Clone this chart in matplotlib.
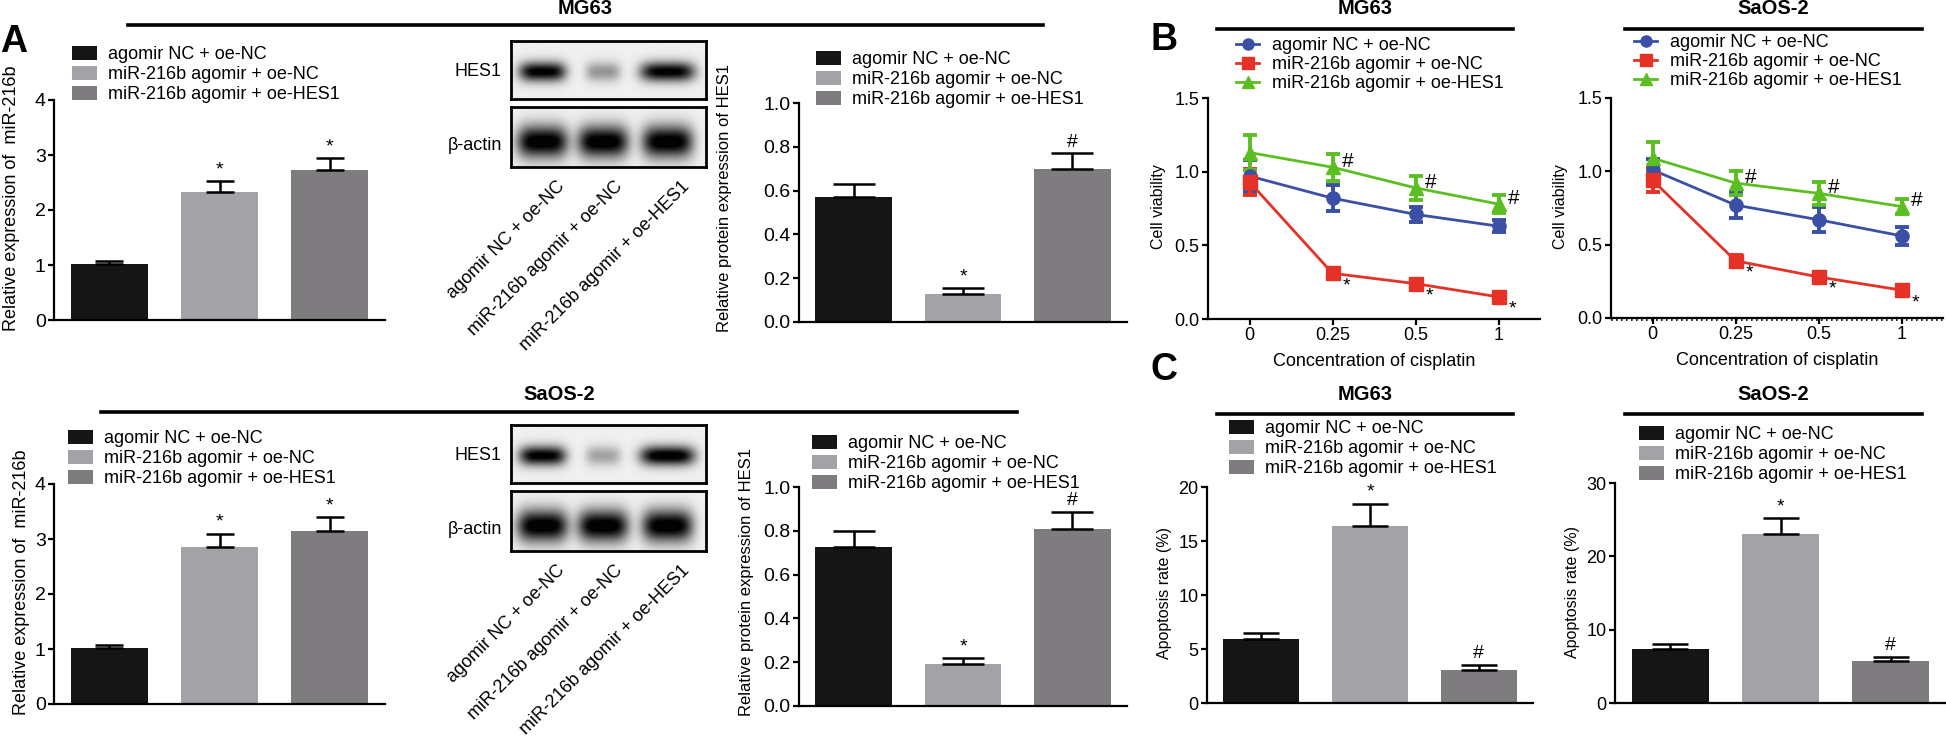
import numpy as np
import matplotlib
matplotlib.use("Agg")
import matplotlib.pyplot as plt
from matplotlib.patches import Patch
from matplotlib.lines import Line2D

plt.rcParams['font.family'] = ['Liberation Sans', 'DejaVu Sans']

W, H = 1946, 745

groups = ["agomir NC + oe-NC", "miR-216b agomir + oe-NC", "miR-216b agomir + oe-HES1"]
bar_colors = ["#151515", "#a2a2a7", "#7e7c7f"]
line_colors = ["#3a50a6", "#e63127", "#5bbf21"]
line_markers = ["o", "s", "^"]

# A: relative miR-216b expression
mir_mg63 = [1.02, 2.33, 2.73]
mir_mg63_err = [0.05, 0.19, 0.22]
mir_saos = [1.01, 2.85, 3.14]
mir_saos_err = [0.07, 0.25, 0.26]
mir_marks = ["", "*", "*"]

# A: relative HES1 protein
hes1_mg63 = [0.57, 0.13, 0.70]
hes1_mg63_err = [0.06, 0.025, 0.07]
hes1_saos = [0.726, 0.19, 0.81]
hes1_saos_err = [0.072, 0.028, 0.078]
hes1_marks = ["", "*", "#"]

# A: blot band darkness per lane
blot_mg63_hes1 = [0.95, 0.35, 0.95]
blot_mg63_actin = [1.0, 1.0, 1.0]
blot_saos_hes1 = [0.95, 0.3, 1.0]
blot_saos_actin = [1.0, 1.0, 1.0]

# B: cell viability vs cisplatin
conc = ["0", "0.25", "0.5", "1"]
via_mg63_nc = [0.97, 0.82, 0.71, 0.63]
via_mg63_nc_err = [0.11, 0.09, 0.05, 0.04]
via_mg63_ago = [0.93, 0.31, 0.24, 0.15]
via_mg63_ago_err = [0.09, 0.02, 0.02, 0.015]
via_mg63_hes = [1.13, 1.03, 0.89, 0.78]
via_mg63_hes_err = [0.12, 0.09, 0.08, 0.06]
via_saos_nc = [1.01, 0.77, 0.67, 0.56]
via_saos_nc_err = [0.075, 0.085, 0.085, 0.06]
via_saos_ago = [0.94, 0.39, 0.28, 0.19]
via_saos_ago_err = [0.08, 0.04, 0.03, 0.02]
via_saos_hes = [1.09, 0.92, 0.85, 0.76]
via_saos_hes_err = [0.11, 0.08, 0.08, 0.05]

# C: apoptosis rate
apo_mg63 = [5.93, 16.4, 3.06]
apo_mg63_err = [0.55, 2.05, 0.5]
apo_saos = [7.3, 23.07, 5.7]
apo_saos_err = [0.8, 2.1, 0.6]
apo_marks = ["", "*", "#"]

fig = plt.figure(figsize=(W / 100, H / 100), dpi=100)


def rect(l, t, r, b):
    return [l / W, 1 - b / H, (r - l) / W, (b - t) / H]


def fx(x):
    return x / W


def fy(y):
    return 1 - y / H


def style(ax, size):
    for s in ["top", "right"]:
        ax.spines[s].set_visible(False)
    for s in ["left", "bottom"]:
        ax.spines[s].set_linewidth(1.6)
    ax.tick_params(width=1.6, length=4, labelsize=size, pad=2)


def bar_legend(ax, x, y):
    handles = [Patch(facecolor=c, edgecolor="none") for c in bar_colors]
    ax.legend(handles, groups, loc="upper left", bbox_to_anchor=(fx(x), fy(y)),
              bbox_transform=fig.transFigure, frameon=False, fontsize=13,
              handlelength=1.4, handleheight=0.8, handletextpad=0.6,
              labelspacing=0.15, borderpad=0, borderaxespad=0)


def bar_panel(ax, vals, errs, marks, ymax, step, fmt, capsize, tsize):
    x = np.arange(len(vals))
    ax.bar(x, vals, width=0.7, color=bar_colors)
    ax.errorbar(x, vals, yerr=[np.zeros(len(vals)), errs], fmt="none", ecolor="black",
                elinewidth=1.8, capsize=capsize, capthick=1.8)
    for xi, v, e, m in zip(x, vals, errs, marks):
        if m:
            ax.annotate(m, (xi, v + e), xytext=(0, 2), textcoords="offset points",
                        ha="center", va="bottom", fontsize=14)
    ax.set_xlim(-0.5, 2.5)
    ax.set_ylim(0, ymax)
    ax.set_xticks([])
    ticks = np.arange(0, ymax + step / 2, step)
    ax.set_yticks(ticks)
    ax.set_yticklabels([fmt.format(t) for t in ticks])
    style(ax, tsize)


def via_panel(ax, series, errs):
    x = np.arange(len(conc))
    for vals, err, c, m in zip(series, errs, line_colors, line_markers):
        ax.errorbar(x, vals, yerr=err, color=c, marker=m, markersize=9.5, lw=2,
                    elinewidth=2.8, capsize=5, capthick=2.8)
    for xi in x[1:]:
        ax.annotate("#", (xi, series[2][xi]), xytext=(7, 4), textcoords="offset points",
                    ha="left", va="center", fontsize=15)
        ax.annotate("*", (xi, series[1][xi]), xytext=(7, -9), textcoords="offset points",
                    ha="left", va="center", fontsize=14)
    ax.set_xlim(-0.5, 3.5)
    ax.set_ylim(0, 1.5)
    ax.set_xticks(x)
    ax.set_xticklabels(conc)
    ax.set_yticks([0, 0.5, 1.0, 1.5])
    ax.set_yticklabels(["0.0", "0.5", "1.0", "1.5"])
    style(ax, 13)
    handles = [Line2D([], [], color=c, marker=m, markersize=8, lw=2)
               for c, m in zip(line_colors, line_markers)]
    return handles


def blot(ax, levels, cy, h, widths):
    nx, ny = 300, 90
    xx, yy = np.meshgrid(np.linspace(0, 1, nx), np.linspace(0, 1, ny))
    img = np.zeros_like(xx)
    for lv, cx, w in zip(levels, [0.16, 0.47, 0.80], widths):
        img += lv * np.exp(-(((xx - cx) / w) ** 4 + ((yy - cy) / h) ** 2))
    img = 0.94 - 0.93 * np.clip(img * 1.1, 0, 1)
    ax.imshow(img, cmap="gray", vmin=0, vmax=1, aspect="auto", extent=(0, 1, 1, 0))
    ax.set_xticks([])
    ax.set_yticks([])
    for s in ax.spines.values():
        s.set_linewidth(2)


def header(title, x0, x1, y, ty):
    fig.add_artist(Line2D([fx(x0), fx(x1)], [fy(y), fy(y)], transform=fig.transFigure,
                          color="black", lw=2.6))
    fig.text(fx((x0 + x1) / 2), fy(ty), title, ha="center", va="center",
             fontsize=14.5, fontweight="bold")


def ylab(text, x, y, size):
    fig.text(fx(x), fy(y), text, rotation=90, ha="center", va="center", fontsize=size)


# ---------------- panel A ----------------
for row, (mir, mir_err, hes, hes_err, b_hes, b_act, name) in enumerate([
        (mir_mg63, mir_mg63_err, hes1_mg63, hes1_mg63_err, blot_mg63_hes1, blot_mg63_actin, "MG63"),
        (mir_saos, mir_saos_err, hes1_saos, hes1_saos_err, blot_saos_hes1, blot_saos_actin, "SaOS-2")]):
    dy = 0 if row == 0 else 384
    ax = fig.add_axes(rect(54, 100 + dy, 385, 320 + dy))
    bar_panel(ax, mir, mir_err, mir_marks, 4, 1, "{:.0f}", 10, 14)
    bar_legend(ax, 72 - 4 * row, 46 + dy)
    ylab("Relative expression of  miR-216b", 12 + 10 * row, 198 + dy, 13)

    ax = fig.add_axes(rect(799, 103 + dy, 1127, 322 + dy))
    bar_panel(ax, hes, hes_err, hes1_marks, 1.0, 0.2, "{:.1f}", 15, 14)
    bar_legend(ax, 816 - 4 * row, 51 + dy)
    ylab("Relative protein expression of HES1", 725 + 21 * row, 198 + dy, 12)

    bx = fig.add_axes(rect(511, 41 + dy, 706, 99 + dy))
    blot(bx, b_hes, 0.53, 0.17, [0.12, 0.09, 0.14])
    bx = fig.add_axes(rect(511, 107 + dy, 706, 167 + dy))
    blot(bx, b_act, 0.58, 0.27, [0.13, 0.13, 0.13])
    fig.text(fx(502), fy(72 + dy), "HES1", ha="right", va="center", fontsize=13)
    fig.text(fx(502), fy(146 + dy), "β-actin", ha="right", va="center", fontsize=13)
    for g, ex in zip(groups, [556, 614, 681]):
        fig.text(fx(ex), fy(178 + dy), g, rotation=45, rotation_mode="anchor",
                 ha="right", va="top", fontsize=13)

header("MG63", 128, 1043, 25, 9)
header("SaOS-2", 101, 1017, 412, 395)
fig.text(fx(14), fy(42), "A", ha="center", va="center", fontsize=27, fontweight="bold")

# ---------------- panel B ----------------
ax = fig.add_axes(rect(1208, 98, 1540, 319))
hs = via_panel(ax, [via_mg63_nc, via_mg63_ago, via_mg63_hes],
               [via_mg63_nc_err, via_mg63_ago_err, via_mg63_hes_err])
ax.legend(hs, groups, loc="upper left", bbox_to_anchor=(fx(1236), fy(37)),
          bbox_transform=fig.transFigure, frameon=False, fontsize=13, handlelength=1.3,
          handletextpad=0.7, labelspacing=0.12, borderpad=0, borderaxespad=0)
ax.set_xlabel("Concentration of cisplatin", fontsize=13, labelpad=6)
ylab("Cell viability", 1158, 207, 11.5)
header("MG63", 1217, 1513, 29, 9)

ax = fig.add_axes(rect(1611, 98, 1943, 318))
hs = via_panel(ax, [via_saos_nc, via_saos_ago, via_saos_hes],
               [via_saos_nc_err, via_saos_ago_err, via_saos_hes_err])
ax.axhline(-0.012, color="black", lw=1.2, ls=(0, (1, 2)), clip_on=False)
ax.legend(hs, groups, loc="upper left", bbox_to_anchor=(fx(1634), fy(34)),
          bbox_transform=fig.transFigure, frameon=False, fontsize=13, handlelength=1.3,
          handletextpad=0.7, labelspacing=0.12, borderpad=0, borderaxespad=0)
ax.set_xlabel("Concentration of cisplatin", fontsize=13, labelpad=6)
ylab("Cell viability", 1561, 207, 11.5)
header("SaOS-2", 1625, 1922, 29, 9)
fig.text(fx(1164), fy(40), "B", ha="center", va="center", fontsize=27, fontweight="bold")

# ---------------- panel C ----------------
ax = fig.add_axes(rect(1207, 487, 1533, 703))
bar_panel(ax, apo_mg63, apo_mg63_err, apo_marks, 20, 5, "{:.0f}", 13, 13)
bar_legend(ax, 1229, 420)
ylab("Apoptosis rate (%)", 1165, 593, 11.5)
header("MG63", 1217, 1513, 414, 394)

ax = fig.add_axes(rect(1615, 483, 1946, 703))
bar_panel(ax, apo_saos, apo_saos_err, apo_marks, 30, 10, "{:.0f}", 13, 13)
bar_legend(ax, 1639, 426)
ylab("Apoptosis rate (%)", 1572, 592, 11.5)
header("SaOS-2", 1625, 1922, 414, 395)
fig.text(fx(1164), fy(370), "C", ha="center", va="center", fontsize=27, fontweight="bold")

fig.savefig("out.png", dpi=100)
